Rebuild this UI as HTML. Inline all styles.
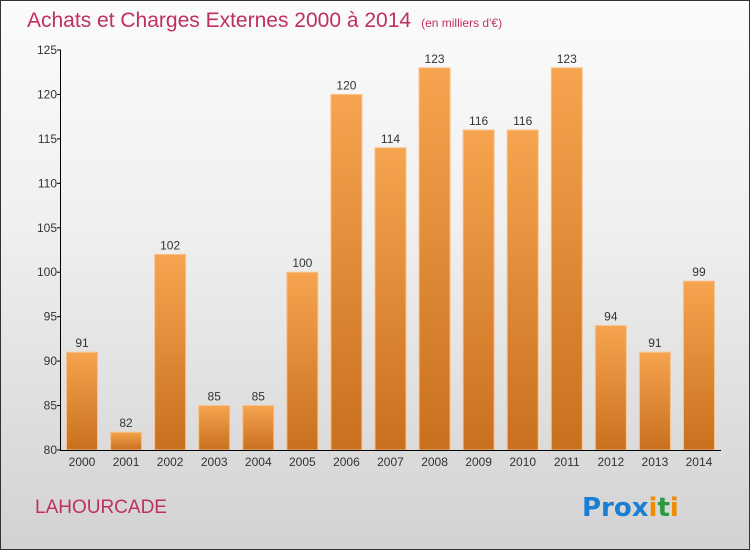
<!DOCTYPE html>
<html><head><meta charset="utf-8"><style>
body{margin:0}
#c{width:750px;height:550px;position:relative;overflow:hidden;box-sizing:border-box;border:1px solid #333;background:linear-gradient(#fbfbfb,#f0f0f0 40%,#d2d2d2);font-family:"Liberation Sans",sans-serif}
</style></head><body>
<div id="c">
<svg id="s" width="750" height="550" style="position:absolute;left:-1px;top:-1px">
<defs><linearGradient id="g" x1="0" y1="0" x2="0" y2="1"><stop offset="0" stop-color="#f6a44f"/><stop offset="1" stop-color="#c8701e"/></linearGradient></defs>
<text x="27" y="27" font-size="21" fill="#c0305f">Achats et Charges Externes 2000 à 2014<tspan font-size="12" dx="10">(en milliers d'€)</tspan></text>
<g id="bars"></g>
<g id="axes"></g>
<text x="35" y="513" font-size="19" fill="#c0305f">LAHOURCADE</text>
<text x="582" y="516" font-size="26" font-weight="bold" font-family="DejaVu Sans,sans-serif"><tspan fill="#1a7fd4">Pro</tspan><tspan fill="#1a7fd4">x</tspan><tspan fill="#f08a00">i</tspan><tspan fill="#2a9a40">t</tspan><tspan fill="#f08a00">i</tspan></text>
</svg>
</div>
<script>
const years=["2000","2001","2002","2003","2004","2005","2006","2007","2008","2009","2010","2011","2012","2013","2014"];
const values=[91,82,102,85,85,100,120,114,123,116,116,123,94,91,99];
const yTicks=[80,85,90,95,100,105,110,115,120,125];
const NS="http://www.w3.org/2000/svg";
const y=v=>450-(v-80)*400/45;
const x=i=>82+i*44.07;
function mk(t,a,p){const e=document.createElementNS(NS,t);for(const k in a)e.setAttribute(k,a[k]);p.appendChild(e);return e;}
const B=document.getElementById('bars'),A=document.getElementById('axes');
values.forEach((v,i)=>{
 const r=mk('rect',{x:x(i)-15.5,y:y(v),width:31,height:450-y(v),fill:'url(#g)',stroke:'#f8c28c','stroke-width':1},B);
 
 
 const t=mk('text',{x:x(i),y:y(v)-5,'text-anchor':'middle','font-size':12,fill:'#333'},B);t.textContent=v;
 
 
 const l=mk('text',{x:x(i),y:466,'text-anchor':'middle','font-size':12,fill:'#333'},A);l.textContent=years[i];
 
 
});
const ya=mk('line',{x1:60.5,y1:50,x2:60.5,y2:450,stroke:'#000'},A);


const xa=mk('line',{x1:60,y1:450.5,x2:721,y2:450.5,stroke:'#000'},A);


yTicks.forEach(v=>{
 mk('line',{x1:57,x2:61,y1:y(v),y2:y(v),stroke:'#000'},A);
 const t=mk('text',{x:57,y:y(v)+4,'text-anchor':'end','font-size':12,fill:'#333'},A);t.textContent=v;
 
 
});
</script>
</body></html>
